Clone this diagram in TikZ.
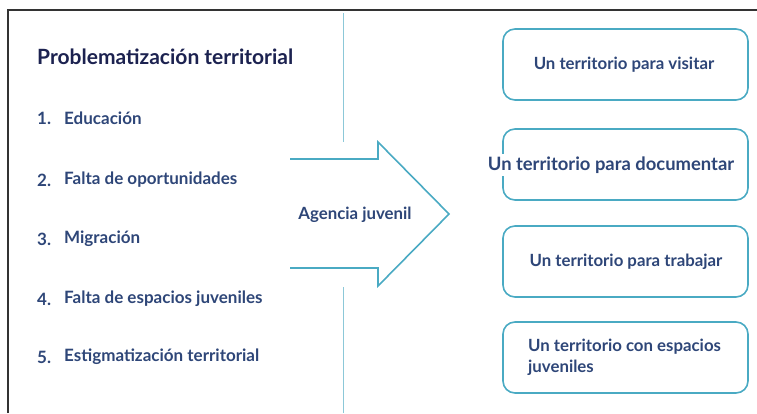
\documentclass[tikz,border=0pt]{standalone}
\usepackage{fontspec}
\setmainfont{Lato}
\begin{document}
\begin{tikzpicture}[x=1pt,y=-1pt,
  frame/.style={draw=black!80,line width=1.2pt},
  sep/.style={draw=sepcol,line width=1pt},
  tealline/.style={draw=teal1,line width=1.6pt,line join=miter},
  titletxt/.style={text=navy1,font=\bfseries\fontsize{21}{25}\selectfont,anchor=west,inner sep=0pt},
  itemtxt/.style={text=navy2,font=\bfseries\fontsize{17}{20}\selectfont,anchor=west,inner sep=0pt},
  boxtxt/.style={text=navy2,font=\bfseries\fontsize{16.8}{20}\selectfont,inner sep=0pt},
  tbox/.style={draw=teal1,line width=1.6pt,rounded corners=12pt,minimum width=245pt,minimum height=71pt,inner sep=0pt}
]
\definecolor{teal1}{HTML}{4AAAC3}
\definecolor{sepcol}{HTML}{8CC8D8}
\definecolor{navy1}{HTML}{1C2250}
\definecolor{navy2}{HTML}{2E4678}
\useasboundingbox (0,0) rectangle (757,413);
% frame
\coordinate (ftl) at (8,10);
\coordinate (ftr) at (757,10);
\coordinate (fbl) at (8,413);
\draw[frame] (fbl) -- (ftl) -- (ftr);
% separator lines
\coordinate (s1a) at (343,13);
\coordinate (s1b) at (343,142);
\coordinate (s2a) at (343,287);
\coordinate (s2b) at (343,413);
\draw[sep] (s1a) -- (s1b);
\draw[sep] (s2a) -- (s2b);
% title and list
\node[titletxt] (title) at (37,57) {Problematización territorial};
\node[itemtxt] (n1) at (37,118) {1.};
\node[itemtxt] (t1) at (64,118) {Educación};
\node[itemtxt] (n2) at (37,180) {2.};
\node[itemtxt] (t2) at (64,180) {Falta de oportunidades};
\node[itemtxt] (n3) at (37,239) {3.};
\node[itemtxt] (t3) at (64,239) {Migración};
\node[itemtxt] (n4) at (37,299) {4.};
\node[itemtxt] (t4) at (64,299) {Falta de espacios juveniles};
\node[itemtxt] (n5) at (37,357) {5.};
\node[itemtxt] (t5) at (64,357) {Estigmatización territorial};
% arrow
\coordinate (a1) at (290,159);
\coordinate (a2) at (378,159);
\coordinate (a3) at (378,142);
\coordinate (a4) at (449,214);
\coordinate (a5) at (378,286);
\coordinate (a6) at (378,268);
\coordinate (a7) at (290,268);
\draw[tealline] (a1) -- (a2) -- (a3) -- (a4) -- (a5) -- (a6) -- (a7);
\node[boxtxt] (ag) at (355,215) {Agencia juvenil};
% boxes
\node[tbox] (b1) at (625.5,64.5) {};
\node[tbox] (b2) at (625.5,164.5) {};
\node[tbox] (b3) at (625.5,261.5) {};
\node[tbox] (b4) at (625.5,357.5) {};
\node[boxtxt] (l1) at (624,65) {Un territorio para visitar};
\node[boxtxt,fill=white,inner xsep=1pt,inner ysep=3pt,font=\bfseries\fontsize{18.4}{22}\selectfont] (l2) at (611,165) {Un territorio para documentar};
\node[boxtxt] (l3) at (626,262) {Un territorio para trabajar};
\node[boxtxt,anchor=west,align=left,font=\bfseries\fontsize{16.8}{21}\selectfont] (l4) at (528,357.5) {Un territorio con espacios\\juveniles};
\end{tikzpicture}
\end{document}
